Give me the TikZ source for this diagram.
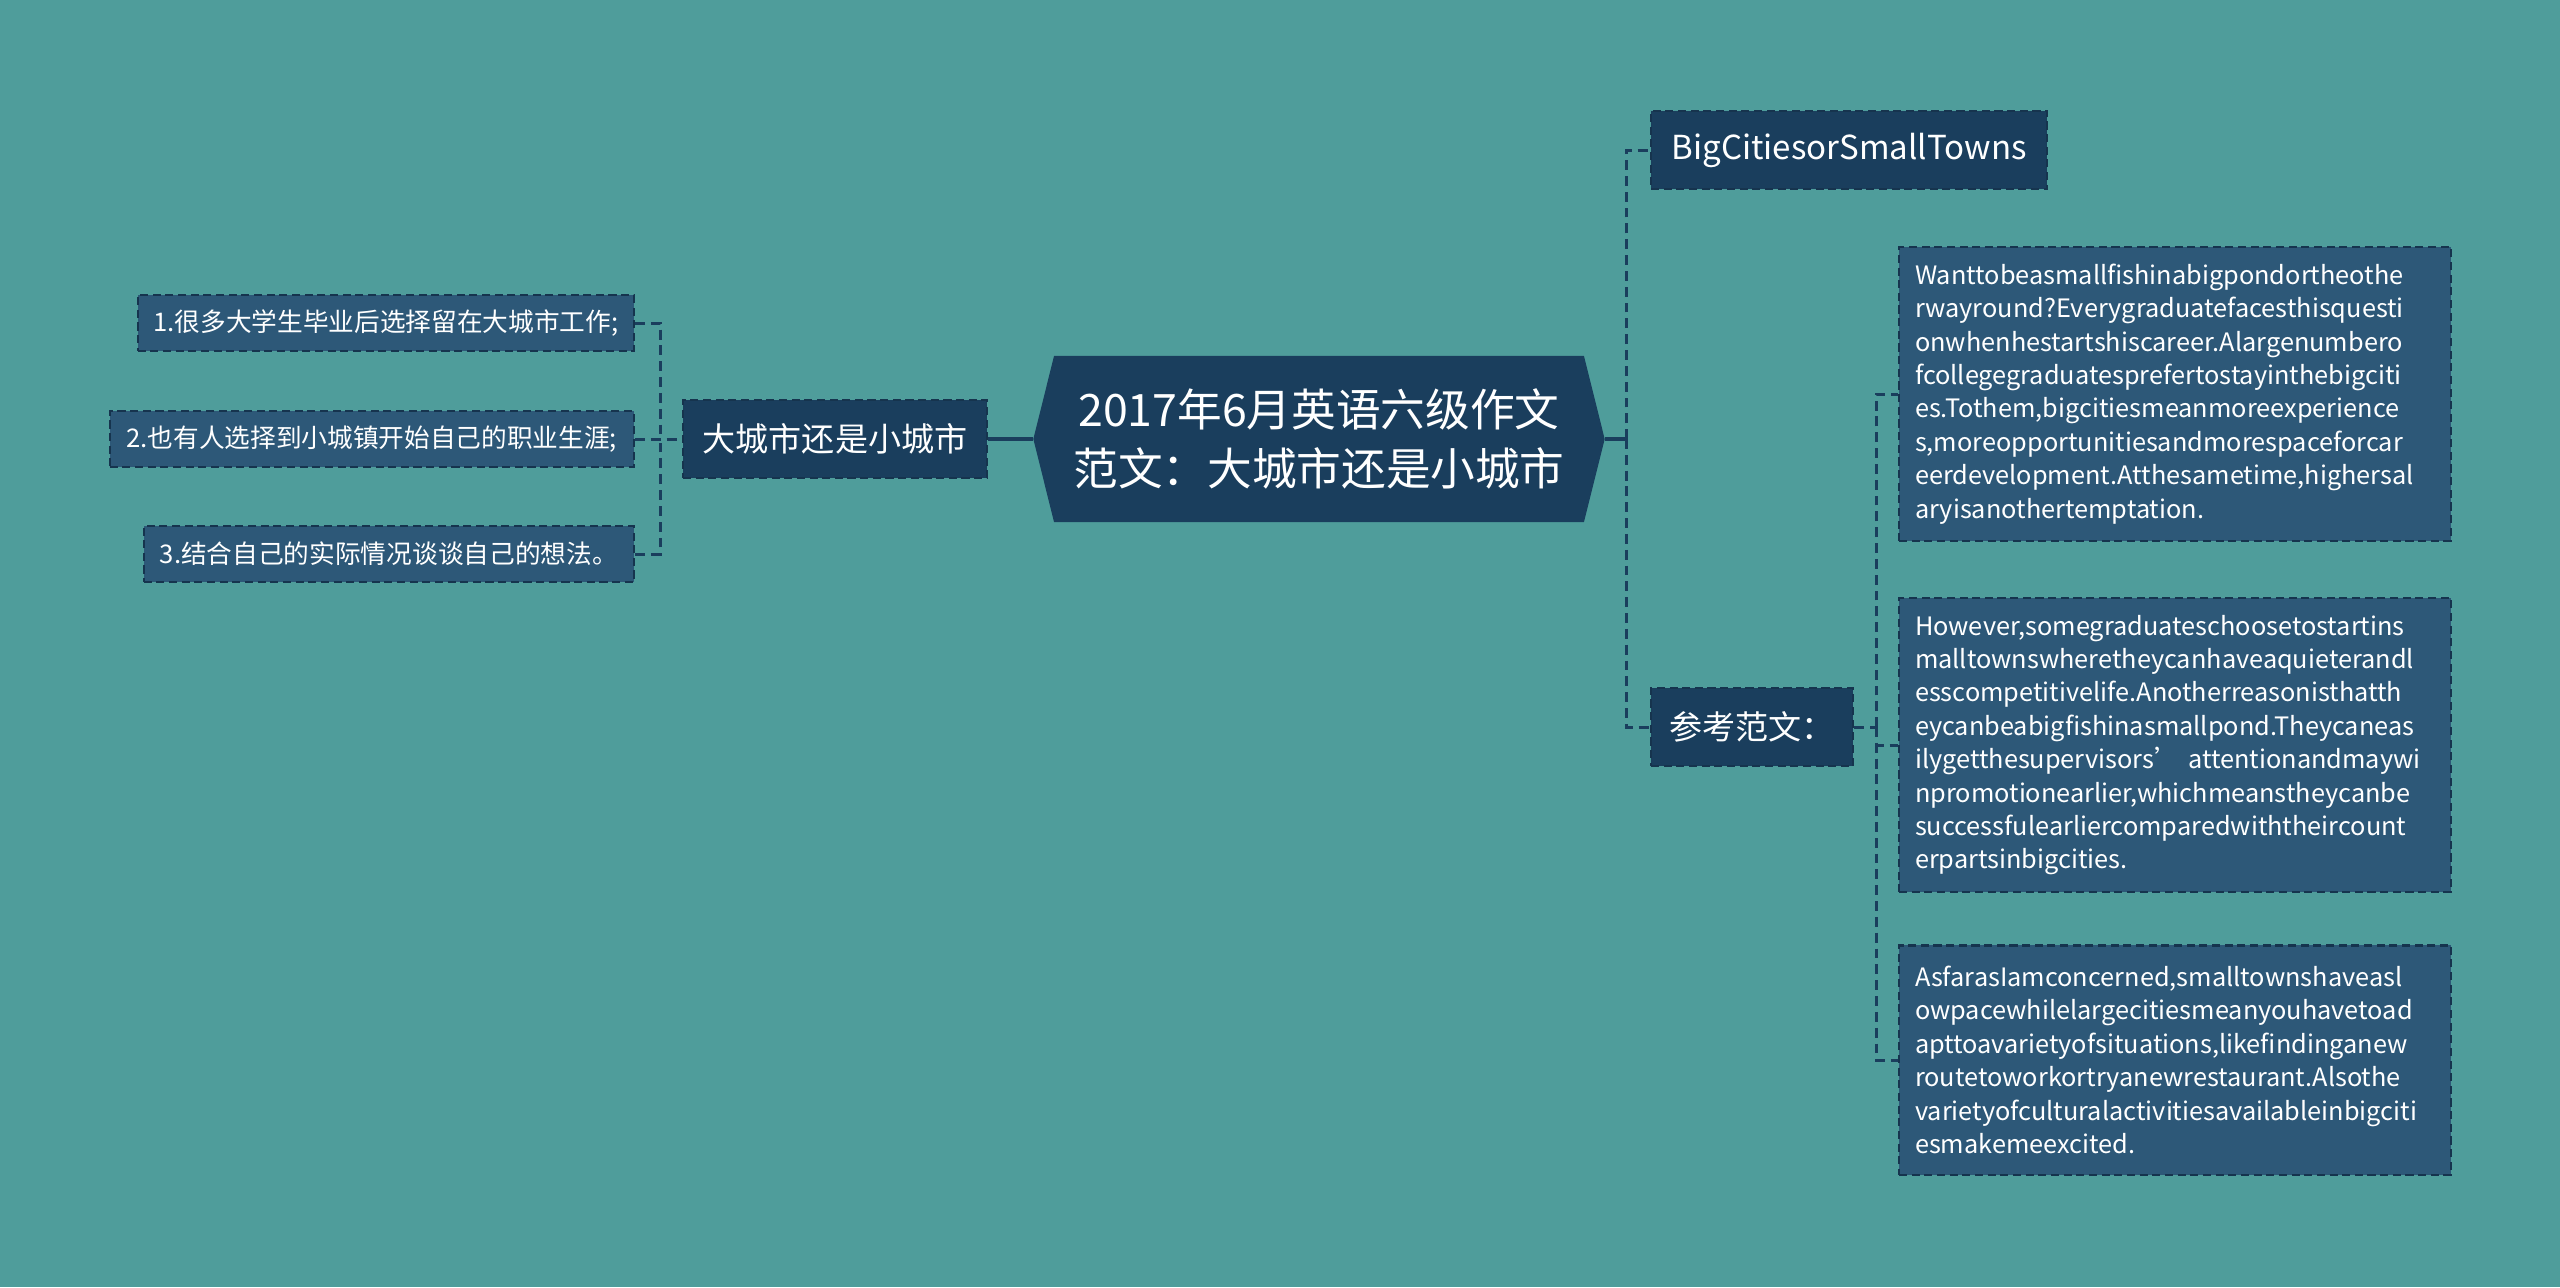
\documentclass[tikz,border=0pt]{standalone}
\usepackage{fontspec}
\setmainfont{Noto Sans CJK SC}
\usepackage{tikz}
\usetikzlibrary{shapes.symbols}
\definecolor{bgteal}{RGB}{79,157,155}
\definecolor{navy}{RGB}{26,62,93}
\definecolor{leafblue}{RGB}{45,88,120}
\definecolor{edgeblue}{RGB}{22,52,78}
\tikzset{
  root/.style={signal, signal to=west and east, signal pointer angle=152, fill=navy, text=white, minimum width=5.71cm, minimum height=1.66cm, align=center, inner sep=0pt, font=\fontsize{12.7}{17}\selectfont},
  topic/.style={draw=edgeblue, line width=0.6pt, dash pattern=on 2.3pt off 1.3pt, fill=navy, text=white, minimum height=0.78cm, inner xsep=0.12cm, font=\fontsize{9.4}{12}\selectfont},
  leaf/.style={draw=edgeblue, line width=0.6pt, dash pattern=on 2.3pt off 1.3pt, fill=leafblue, text=white, minimum height=0.56cm, inner xsep=0.1cm, font=\fontsize{7.3}{9}\selectfont},
  para/.style={draw=edgeblue, line width=0.6pt, dash pattern=on 2.3pt off 1.3pt, fill=leafblue, text=white, text width=5.2cm, inner xsep=0.16cm, align=left, font=\fontsize{7.2}{9.5}\selectfont},
  link/.style={draw=navy, line width=0.85pt, dash pattern=on 2.8pt off 1.7pt},
  trunk/.style={draw=navy, line width=1pt}
}

\begin{document}
\begin{tikzpicture}[x=0.01cm,y=-0.01cm]
  \fill[bgteal] (0,0) rectangle (2560,1287);
  \useasboundingbox (0,0) rectangle (2560,1287);

  % centre
  \node[root] (root) at (1319,439) {2017年6月英语六级作文\\范文：大城市还是小城市};

  % left branch
  \node[topic, minimum width=3.04cm] (sub) at (835,439) {大城市还是小城市};
  \node[leaf, anchor=east, minimum width=4.96cm] (l1) at (635,323) {1.很多大学生毕业后选择留在大城市工作;};
  \node[leaf, anchor=east, minimum width=5.24cm] (l2) at (635,439) {2.也有人选择到小城镇开始自己的职业生涯;};
  \node[leaf, anchor=east, minimum width=4.90cm] (l3) at (635,554) {3.结合自己的实际情况谈谈自己的想法。};
  \coordinate (lbus) at (660,439);

  % right branch
  \node[topic, anchor=west, minimum width=3.96cm] (big) at (1650,150) {BigCitiesorSmallTowns};
  \node[topic, anchor=west, minimum width=2.02cm] (ref) at (1650,727) {参考范文：};
  \coordinate (rbus) at (1626,439);
  \coordinate (pbus) at (1876,727);

  \node[para, anchor=west, minimum height=2.93cm] (p1) at (1898,394)
    {Wanttobeasmallfishinabigpondortheothe\\rwayround?Everygraduatefacesthisquesti\\onwhenhestartshiscareer.Alargenumbero\\fcollegegraduatesprefertostayinthebigciti\\es.Tothem,bigcitiesmeanmoreexperience\\s,moreopportunitiesandmorespaceforcar\\eerdevelopment.Atthesametime,highersal\\aryisanothertemptation.};
  \node[para, anchor=west, minimum height=2.93cm] (p2) at (1898,745)
    {However,somegraduateschoosetostartins\\malltownswheretheycanhaveaquieterandl\\esscompetitivelife.Anotherreasonisthatth\\eycanbeabigfishinasmallpond.Theycaneas\\ilygetthesupervisors’ attentionandmaywi\\npromotionearlier,whichmeanstheycanbe\\successfulearliercomparedwiththeircount\\erpartsinbigcities.};
  \node[para, anchor=west, minimum height=2.29cm] (p3) at (1898,1060)
    {AsfarasIamconcerned,smalltownshaveasl\\owpacewhilelargecitiesmeanyouhavetoad\\apttoavarietyofsituations,likefindinganew\\routetoworkortryanewrestaurant.Alsothe\\varietyofculturalactivitiesavailableinbigciti\\esmakemeexcited.};

  % connectors
  \draw[trunk] (sub.east) -- (root.west);
  \draw[link] (l2.east) -- (sub.west);
  \draw[link] (l1.east) -| (lbus);
  \draw[link] (l3.east) -| (lbus);
  \draw[trunk] (root.east) -- (rbus);
  \draw[link] (rbus) |- (big.west);
  \draw[link] (rbus) |- (ref.west);
  \draw[link] (ref.east) -- (pbus);
  \draw[link] (pbus) |- (p1.west);
  \draw[link] (pbus) |- (p2.west);
  \draw[link] (pbus) |- (p3.west);
\end{tikzpicture}
\end{document}
